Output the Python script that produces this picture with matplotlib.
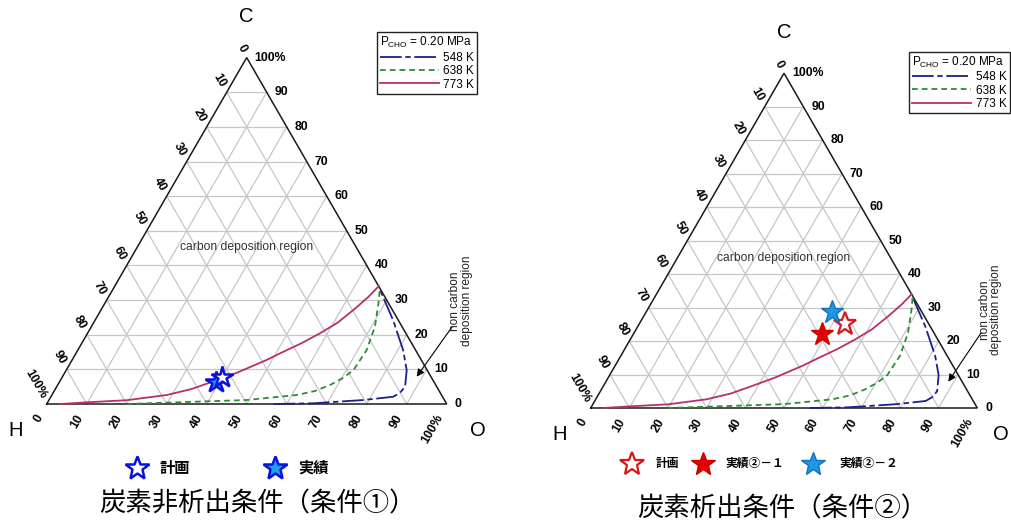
import matplotlib
matplotlib.use('Agg')
import matplotlib.pyplot as plt
from matplotlib.lines import Line2D
import numpy as np

plt.rcParams['font.family'] = ['Liberation Sans', 'Noto Sans CJK JP', 'DejaVu Sans']
plt.rcParams['mathtext.fontset'] = 'custom'
plt.rcParams['mathtext.rm'] = 'Liberation Sans'
plt.rcParams['mathtext.it'] = 'Liberation Sans'

# ---------------- data (O %, C %) ----------------
legend_title = 'P$_{\\mathrm{CHO}}$ = 0.20 MPa'
temp_labels = ['548 K', '638 K', '773 K']

o_548 = [56.7, 66.5, 78.6, 85.6, 86.7, 87.1, 85.1, 81.3, 74.5, 66.9]
c_548 = [0.0, 0.2, 1.15, 2.1, 3.2, 5.0, 9.8, 15.6, 24.2, 32.9]
o_638 = [20.0, 49.4, 61.2, 65.2, 68.1, 70.3, 71.8, 72.2, 70.9, 68.4, 66.6]
c_638 = [0.0, 1.15, 2.6, 3.75, 5.5, 7.5, 9.8, 15.6, 22.3, 29.1, 33.4]
o_773 = [3.3, 10.0, 19.5, 28.7, 34.0, 38.5, 43.0, 48.6, 51.0, 55.0, 58.1, 61.0, 63.3, 65.0, 66.0]
c_773 = [0.0, 0.5, 1.1, 2.6, 4.3, 6.6, 9.0, 12.7, 14.6, 17.6, 20.4, 23.5, 27.5, 31.0, 34.0]

tick_values = [0, 10, 20, 30, 40, 50, 60, 70, 80, 90, 100]
tick_labels = ['0', '10', '20', '30', '40', '50', '60', '70', '80', '90', '100%']

# condition 1 stars
c1_labels = ['計画', '実績']
c1_o = [39.8, 39.1]
c1_c = [7.9, 6.4]
# condition 2 stars
c2_labels = ['計画', '実績②－１', '実績②－２']
c2_o = [53.2, 48.9, 48.0]
c2_c = [25.1, 22.0, 28.6]

curve_colors = ['#1c1f8c', '#2e8b34', '#b5306c']
curve_styles = [(0, (12, 2, 3, 2)), (0, (3.2, 2.2)), '-']

W, H = 1012, 527
fig = plt.figure(figsize=(W / 100, H / 100), dpi=100)
R3 = np.sqrt(3) / 2


def tern(o, c):
    o = np.asarray(o, float) / 100
    c = np.asarray(c, float) / 100
    return o + c / 2, c * R3


def make_ax(pl, pr, pt, pb, hx, hy, s):
    ax = fig.add_axes([pl / W, 1 - pb / H, (pr - pl) / W, (pb - pt) / H])
    ax.set_xlim((pl - hx) / s, (pr - hx) / s)
    ax.set_ylim((hy - pb) / s, (hy - pt) / s)
    ax.axis('off')
    return ax


def draw_ternary(ax, s, star_o, star_c, star_styles, info):
    p = 1.0 / s
    gcol = '#c6c6c6'
    for k in tick_values[1:-1]:
        f = k / 100
        ax.plot([f / 2, 1 - f / 2], [f * R3, f * R3], color=gcol, lw=0.9, zorder=1)
        ax.plot([f, (1 + f) / 2], [0, (1 - f) * R3], color=gcol, lw=0.9, zorder=1)
        ax.plot([1 - f, (1 - f) / 2], [0, (1 - f) * R3], color=gcol, lw=0.9, zorder=1)
    ax.plot([0, 1, 0.5, 0], [0, 0, R3, 0], color='#1a1a1a', lw=1.1, zorder=2,
            solid_joinstyle='miter')

    # tick labels
    for k, lab in zip(tick_values, tick_labels):
        f = k / 100
        # right axis (C)
        ax.text(1 - f / 2 + 8 * p, f * R3, lab, ha='left', va='center',
                fontsize=8.8, fontweight='bold', clip_on=False)
        # left axis (H)
        bx, by = (1 - f) / 2, (1 - f) * R3
        d = 7 * p
        ax.text(bx - 0.5 * d, by + R3 * d, lab, ha='right', va='center',
                rotation=-60, rotation_mode='anchor', fontsize=8.8,
                fontweight='bold', clip_on=False)
        # bottom axis (O)
        d = 13 * p
        ax.text(f - 0.5 * d, -R3 * d, lab, ha='right', va='center',
                rotation=60, rotation_mode='anchor', fontsize=8.8,
                fontweight='bold', clip_on=False)

    # corner letters
    ax.text(0.5, R3 + 41 * p, 'C', ha='center', va='center', fontsize=14.5, clip_on=False)
    ax.text(-31 * p, -26 * p, 'H', ha='center', va='center', fontsize=14.5, clip_on=False)
    ax.text(1 + info['o_dx'] * p, -26 * p, 'O', ha='center', va='center', fontsize=14.5,
            clip_on=False)

    # curves
    handles = []
    for oo, cc, col, ls, lab in zip([o_548, o_638, o_773], [c_548, c_638, c_773],
                                    curve_colors, curve_styles, temp_labels):
        x, y = tern(oo, cc)
        h, = ax.plot(x, y, color=col, ls=ls, lw=1.3, label=lab, zorder=3)
        handles.append(h)

    # stars
    sx, sy = tern(star_o, star_c)
    for xi, yi, st in zip(sx, sy, star_styles):
        ax.plot([xi], [yi], ls='none', marker='*', zorder=5, **st)

    # region texts
    ax.text(0.5, info['cdr_y'], 'carbon deposition region', ha='center', va='center',
            fontsize=8.7, color='#333333')
    ax.text(info['ncx'], info['ncy'], 'non carbon\ndeposition region', rotation=90,
            ha='center', va='center', fontsize=8.6, linespacing=0.95, color='#222222',
            clip_on=False)
    ax.annotate('', xy=info['tip'], xytext=info['tail'],
                arrowprops=dict(arrowstyle='-|>', color='black', lw=0.8,
                                mutation_scale=11, shrinkA=0, shrinkB=0),
                annotation_clip=False)

    leg = ax.legend(handles=handles, title=legend_title, loc='upper left',
                    bbox_to_anchor=info['leg'], bbox_transform=fig.transFigure,
                    frameon=True, fancybox=False, edgecolor='#222222', fontsize=8.5,
                    title_fontsize=8.5, handlelength=5.0, handletextpad=0.4,
                    labelspacing=0.12, borderpad=0.25, borderaxespad=0,
                    alignment='left', framealpha=1)
    leg.get_frame().set_linewidth(1.0)
    return ax


# -------- left: condition 1 --------
s1 = 400.0
ax1 = make_ax(0, 506, 0, 450, 46.7, 404, s1)
styles1 = [dict(ms=16, mfc='white', mec='#0a10e0', mew=1.8),
           dict(ms=16, mfc='#1aa0e6', mec='#0a10e0', mew=1.8)]
order1 = [1, 0]
info1 = dict(cdr_y=(404 - 247.3) / s1, ncx=(461 - 46.7) / s1, ncy=(404 - 301) / s1,
             tip=((416.7 - 46.7) / s1, (404 - 376.7) / s1),
             tail=((452 - 46.7) / s1, (404 - 327) / s1),
             leg=(376.7 / W, 1 - 32.3 / H), o_dx=31)
draw_ternary(ax1, s1, [c1_o[i] for i in order1], [c1_c[i] for i in order1],
             [styles1[i] for i in order1], info1)

# -------- right: condition 2 --------
s2 = 386.6
ax2 = make_ax(506, 1012, 0, 450, 590.7, 408, s2)
styles2 = [dict(ms=17, mfc='white', mec='#d81818', mew=1.6),
           dict(ms=17, mfc='#e80000', mec='#c80000', mew=1.0),
           dict(ms=17, mfc='#1e96e0', mec='#1470c0', mew=1.0)]
info2 = dict(cdr_y=(408 - 257.7) / s2, ncx=(990.5 - 590.7) / s2, ncy=(408 - 310) / s2,
             tip=((948.3 - 590.7) / s2, (408 - 381.7) / s2),
             tail=((981 - 590.7) / s2, (408 - 333) / s2),
             leg=(909.3 / W, 1 - 51.7 / H), o_dx=24)
draw_ternary(ax2, s2, c2_o, c2_c, styles2, info2)


# -------- bottom legends --------
def fig_star(px, py, st, ms):
    fig.add_artist(Line2D([px / W], [1 - py / H], transform=fig.transFigure,
                          ls='none', marker='*', ms=ms,
                          **{k: v for k, v in st.items() if k != 'ms'}))


leg1_pos = [(136.7, 160), (275, 298)]
for (spx, tpx), lab, st in zip(leg1_pos, c1_labels, styles1):
    fig_star(spx, 468, st, 18)
    fig.text(tpx / W, 1 - 468 / H, lab, ha='left', va='center', fontsize=11,
             fontweight='bold', family=['Noto Sans CJK JP'])

leg2_pos = [(631.7, 656), (703.3, 725), (813.3, 839.3)]
for (spx, tpx), lab, st in zip(leg2_pos, c2_labels, styles2):
    fig_star(spx, 463.5, st, 18)
    fig.text(tpx / W, 1 - 463.5 / H, lab, ha='left', va='center', fontsize=8.5,
             fontweight='bold', family=['Noto Sans CJK JP'])

fig.text(257 / W, 1 - 504 / H, '炭素非析出条件（条件①）', ha='center', va='center',
         fontsize=19, family=['Noto Sans CJK JP'])
fig.text(782 / W, 1 - 509 / H, '炭素析出条件（条件②）', ha='center', va='center',
         fontsize=19, family=['Noto Sans CJK JP'])

fig.savefig('out.png', dpi=100)
